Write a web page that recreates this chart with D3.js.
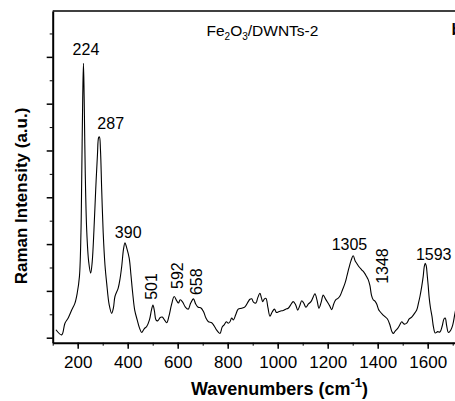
<!DOCTYPE html>
<html>
<head>
<meta charset="utf-8">
<script src="https://cdn.jsdelivr.net/npm/d3@7"></script>
<style>
  body { margin: 0; background: #fff; }
  svg { display: block; font-family: Arial, "Liberation Sans", sans-serif; }
</style>
</head>
<body>
<div id="chart-area"></div>
<script>
// Raman spectrum of Fe2O3/DWNTs-2
const wavenumbers = [113, 136, 149, 162, 176, 189, 198, 207, 213, 216, 220, 223, 226, 230, 236, 244, 252, 258, 265, 272,
  279, 284, 287, 291, 296, 302, 309, 316, 326, 336, 343, 349, 362, 370, 376, 383, 389, 396, 406, 413,
  420, 428, 438, 447, 456, 466, 476, 487, 495, 501, 507, 513, 520, 530, 538, 547, 556, 565, 575, 586,
  596, 603, 610, 620, 630, 642, 652, 663, 672, 682, 692, 703, 713, 723, 736, 746, 756, 769, 778, 785,
  795, 802, 809, 816, 823, 832, 842, 855, 869, 882, 889, 896, 903, 913, 920, 929, 935, 940, 947, 953,
  961, 969, 978, 987, 995, 1002, 1012, 1022, 1032, 1042, 1052, 1062, 1072, 1080, 1088, 1096, 1104, 1113, 1123, 1133,
  1142, 1149, 1157, 1165, 1174, 1182, 1191, 1200, 1208, 1216, 1224, 1232, 1241, 1249, 1259, 1269, 1277, 1285, 1293, 1302,
  1310, 1316, 1326, 1336, 1346, 1356, 1362, 1369, 1375, 1382, 1389, 1396, 1403, 1409, 1419, 1429, 1439, 1449, 1456, 1462,
  1470, 1480, 1488, 1496, 1506, 1516, 1526, 1536, 1546, 1556, 1563, 1569, 1576, 1582, 1586, 1590, 1594, 1598, 1602, 1606,
  1611, 1617, 1623, 1630, 1640, 1649, 1658, 1665, 1670, 1676, 1683, 1692, 1700, 1709, 1720];
const intensity = [0.17, 0.06, 0.31, 0.42, 0.59, 0.74, 0.95, 1.31, 2.24, 3.38, 5.09, 5.86, 5.09, 3.59, 2.30, 1.62, 1.38, 1.62, 2.30, 3.16,
  3.91, 4.28, 4.29, 4.02, 3.16, 2.24, 1.56, 1.16, 0.70, 0.52, 0.64, 0.88, 1.06, 1.28, 1.52, 1.88, 2.03, 1.92, 1.70, 1.34,
  0.95, 0.59, 0.38, 0.21, 0.11, 0.19, 0.24, 0.38, 0.59, 0.70, 0.57, 0.38, 0.36, 0.43, 0.44, 0.38, 0.32, 0.46, 0.70, 0.88,
  0.79, 0.74, 0.81, 0.76, 0.66, 0.61, 0.74, 0.83, 0.72, 0.65, 0.64, 0.56, 0.42, 0.34, 0.32, 0.25, 0.16, 0.09, 0.23, 0.27,
  0.34, 0.31, 0.34, 0.42, 0.38, 0.49, 0.61, 0.63, 0.66, 0.77, 0.82, 0.83, 0.76, 0.74, 0.85, 0.95, 0.85, 0.77, 0.83, 0.84,
  0.64, 0.46, 0.55, 0.61, 0.54, 0.55, 0.57, 0.58, 0.61, 0.63, 0.70, 0.77, 0.70, 0.59, 0.68, 0.79, 0.74, 0.65, 0.72, 0.77,
  0.87, 0.94, 0.81, 0.63, 0.76, 0.91, 0.83, 0.75, 0.68, 0.60, 0.72, 0.81, 0.84, 0.89, 1.02, 1.16, 1.32, 1.49, 1.64, 1.75,
  1.64, 1.59, 1.51, 1.45, 1.39, 1.30, 1.24, 1.11, 0.91, 0.81, 0.78, 0.72, 0.61, 0.56, 0.50, 0.45, 0.40, 0.27, 0.14, 0.09,
  0.14, 0.20, 0.27, 0.34, 0.29, 0.31, 0.40, 0.44, 0.51, 0.59, 0.74, 0.88, 1.09, 1.31, 1.51, 1.59, 1.54, 1.34, 1.11, 0.85,
  0.64, 0.46, 0.23, 0.10, 0.13, 0.12, 0.25, 0.40, 0.42, 0.25, 0.11, 0.16, 0.27, 0.52, 0.81];

// peak labels and where they sit (data units)
const peakLabels = ['224', '287', '390', '501', '592', '658', '1305', '1348', '1593'];
const labelAt = [[233, 6.03], [332, 4.45], [402, 2.13], [516, 0.81], [622, 1.04], [696, 0.91], [1287, 1.88], [1440, 1.15], [1624, 1.66]];
const labelVertical = [false, false, false, true, true, true, false, true, false];

const xMajorTicks = [200, 400, 600, 800, 1000, 1200, 1400, 1600];
const xMinorTicks = d3.range(100, 1800, 100);
const yMajorTicks = [0, 1, 2, 3, 4, 5, 6];
const yMinorTicks = d3.range(0.5, 7, 1);

const W = 455, H = 401;
const margin = {left: 52.7, top: 11, bottom: 58.3};
const plotRight = 477.7; // frame continues past the picture edge

const svg = d3.select('#chart-area')
  .append('svg')
  .attr('width', W)
  .attr('height', H);

const x = d3.scaleLinear()
  .domain([100, 1800])
  .range([margin.left, plotRight]);

const y = d3.scaleLinear()
  .domain([-0.107, 6.98])
  .range([H - margin.bottom, margin.top]);

const data = wavenumbers.map((w, i) => ({w: w, v: intensity[i]}));

// spectrum
svg.append('path')
  .datum(data)
  .attr('fill', 'none')
  .attr('stroke', '#000')
  .attr('stroke-width', 1.1)
  .attr('stroke-linejoin', 'round')
  .attr('d', d3.line().x(d => x(d.w)).y(d => y(d.v)).curve(d3.curveCatmullRom.alpha(0.5)));

// frame
svg.append('line')
  .attr('x1', margin.left).attr('x2', plotRight)
  .attr('y1', margin.top).attr('y2', margin.top)
  .attr('stroke', '#000').attr('stroke-width', 1.5);

// x axis
const xAxisY = H - margin.bottom;
svg.append('g')
  .attr('transform', `translate(0, ${xAxisY})`)
  .call(d3.axisBottom(x).tickValues(xMinorTicks).tickSize(3).tickFormat(''))
  .call(g => g.select('.domain').remove());
const xAx = svg.append('g')
  .attr('transform', `translate(0, ${xAxisY})`)
  .call(d3.axisBottom(x).tickValues(xMajorTicks).tickSize(6).tickSizeOuter(0).tickPadding(7.5).tickFormat(d3.format('d')));
xAx.select('.domain').attr('stroke-width', 2);
xAx.selectAll('.tick line').attr('stroke-width', 1.5);
xAx.selectAll('text').attr('font-size', '17px').attr('font-family', 'Arial, "Liberation Sans", sans-serif').attr('fill', '#000');

// y axis
svg.append('g')
  .attr('transform', `translate(${margin.left}, 0)`)
  .call(d3.axisLeft(y).tickValues(yMinorTicks).tickSize(3).tickFormat(''))
  .call(g => g.select('.domain').remove());
const yAx = svg.append('g')
  .attr('transform', `translate(${margin.left}, 0)`)
  .call(d3.axisLeft(y).tickValues(yMajorTicks).tickSize(6).tickSizeOuter(0).tickFormat(''));
yAx.select('.domain').attr('stroke-width', 2);
yAx.selectAll('.tick line').attr('stroke-width', 1.5);

// axis titles
const xTitle = svg.append('text')
  .attr('x', 279.5)
  .attr('y', 395)
  .attr('text-anchor', 'middle')
  .attr('font-size', '18px')
  .attr('font-weight', 'bold')
  .text('Wavenumbers (cm');
xTitle.append('tspan').attr('dy', -8).attr('font-size', '13px').text('-1');
xTitle.append('tspan').attr('dy', 8).text(')');

svg.append('text')
  .attr('transform', 'translate(26.5, 196) rotate(-90)')
  .attr('text-anchor', 'middle')
  .attr('font-size', '17px')
  .attr('font-weight', 'bold')
  .text('Raman Intensity (a.u.)');

// sample name
const title = svg.append('text')
  .attr('x', 206.5)
  .attr('y', 36)
  .attr('font-size', '15.5px')
  .text('Fe');
title.append('tspan').attr('dy', 4).attr('font-size', '10px').text('2');
title.append('tspan').attr('dy', -4).text('O');
title.append('tspan').attr('dy', 4).attr('font-size', '10px').text('3');
title.append('tspan').attr('dy', -4).text('/DWNTs-2');

svg.append('text')
  .attr('x', 451.5)
  .attr('y', 35)
  .attr('font-size', '16px')
  .attr('font-weight', 'bold')
  .text('b');

// peak labels
peakLabels.forEach((lab, i) => {
  const px = x(labelAt[i][0]), py = y(labelAt[i][1]);
  const t = svg.append('text')
    .attr('font-size', '16px')
    .text(lab);
  if (labelVertical[i]) {
    t.attr('transform', `translate(${px}, ${py}) rotate(-90)`);
  } else {
    t.attr('x', px).attr('y', py).attr('text-anchor', 'middle');
  }
});
</script>
</body>
</html>
